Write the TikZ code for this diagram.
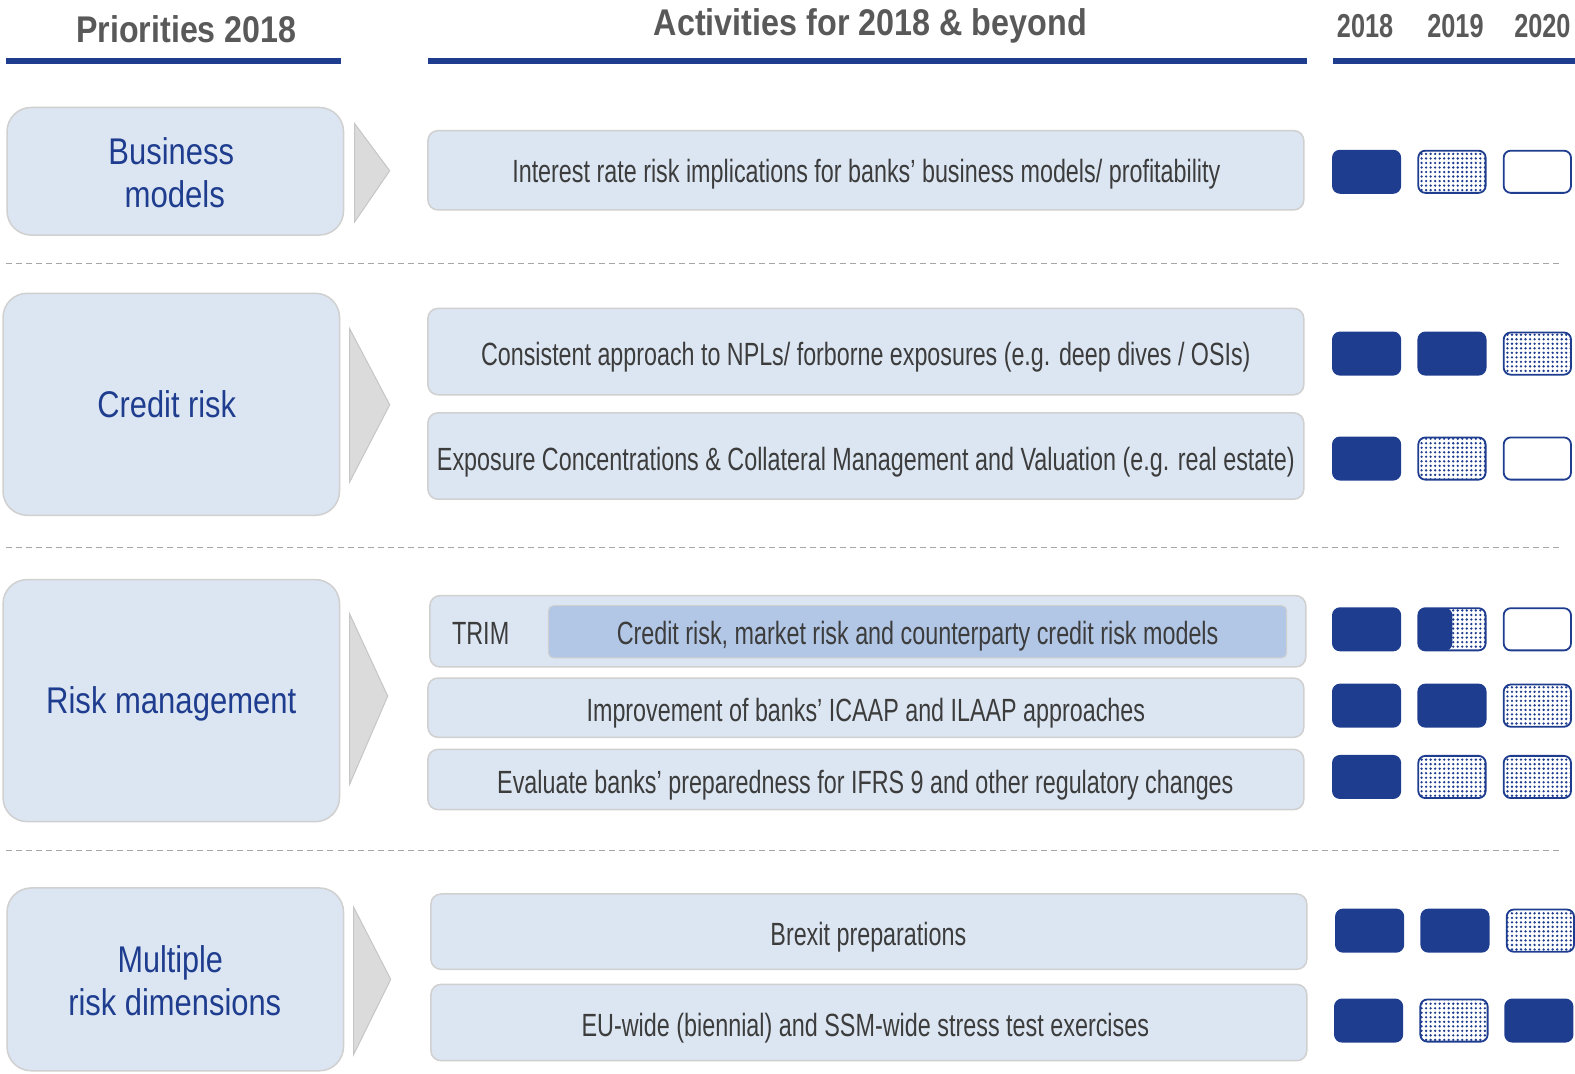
\documentclass[tikz,border=0pt]{standalone}
\usepackage{graphicx}
\usepackage{fontspec}
\setmainfont{Liberation Sans}
\usetikzlibrary{patterns}
\definecolor{dblue}{RGB}{31,61,143}
\definecolor{lfill}{RGB}{220,230,242}
\definecolor{ifill}{RGB}{178,199,230}
\definecolor{tgray}{RGB}{60,60,60}
\definecolor{hgray}{RGB}{89,89,89}
\definecolor{bgray}{RGB}{208,208,208}
\pgfdeclarepatternformonly{yeardots}{\pgfqpoint{-1pt}{-1pt}}{\pgfqpoint{5.5pt}{5.5pt}}{\pgfqpoint{4.5pt}{4.5pt}}{\pgfpathcircle{\pgfqpoint{2.25pt}{2.25pt}}{1.3pt}\pgfusepath{fill}}
\newcommand{\fw}[2]{\resizebox{#1pt}{\height}{#2}}
\tikzset{
 lbox/.style={draw=bgray, line width=1.5pt, fill=lfill, rounded corners=24pt, inner sep=0pt},
 abox/.style={draw=bgray, line width=1.5pt, fill=lfill, rounded corners=10pt, inner sep=0pt},
 ibox/.style={fill=ifill, draw=bgray, line width=1pt, rounded corners=5pt, inner sep=0pt},
 ttl/.style={text=dblue, font=\fontsize{37}{43}\selectfont, anchor=base, inner sep=0pt},
 act/.style={text=tgray, font=\fontsize{32}{38}\selectfont, anchor=base, inner sep=0pt},
 hdr/.style={text=hgray, font=\bfseries\fontsize{37}{43}\selectfont, anchor=base, inner sep=0pt},
 yhdr/.style={text=hgray, font=\bfseries\fontsize{33}{40}\selectfont, anchor=base, inner sep=0pt},
 chev/.style={fill=gray!28, draw=gray!45, line width=1pt},
 yb/.style={minimum width=67pt, minimum height=42pt, rounded corners=7pt, inner sep=0pt, line width=1.8pt, draw=dblue},
 yfull/.style={yb, fill=dblue},
 ydot/.style={yb, pattern=yeardots, pattern color=dblue},
 yempty/.style={yb, fill=white},
 yhalf/.style={yb, pattern=yeardots, pattern color=dblue, path picture={\fill[dblue] (path picture bounding box.south west) rectangle ([xshift=-33pt]path picture bounding box.north east);}},
 bar/.style={draw=dblue, line width=6pt},
 sep/.style={draw=gray!70, line width=1pt, dash pattern=on 6pt off 4pt},
}
\begin{document}
\begin{tikzpicture}[x=1pt,y=-1pt]
\useasboundingbox (0,0) rectangle (1568,1069);
% headers
\node[hdr] (hp) at (185.5,42) {\fw{219}{Priorities 2018}};
\node[hdr] (ha) at (866.5,35) {\fw{431}{Activities for 2018 \& beyond}};
\node[yhdr] (h18) at (1359,37) {\fw{56}{2018}};
\node[yhdr] (h19) at (1449,37) {\fw{56}{2019}};
\node[yhdr] (h20) at (1535.5,37) {\fw{56}{2020}};
\path[bar] (6,61) -- (339,61);
\path[bar] (426,61) -- (1301,61);
\path[bar] (1327,61) -- (1568,61);
% separators
\path[sep] (6,262) -- (1555,262);
\path[sep] (6,545) -- (1555,545);
\path[sep] (6,847) -- (1555,847);
% left boxes
\node[lbox, minimum width=335pt, minimum height=127pt] (b1) at (174.5,170.5) {};
\node[lbox, minimum width=335pt, minimum height=221pt] (b2) at (170.5,402.5) {};
\node[lbox, minimum width=335pt, minimum height=241pt] (b3) at (170.5,697.5) {};
\node[lbox, minimum width=335pt, minimum height=182pt] (b4) at (174.5,975) {};
\node[ttl] (t1a) at (170.5,164) {\fw{125}{Business}};
\node[ttl] (t1b) at (174,207) {\fw{100}{models}};
\node[ttl] (t2) at (166,416) {\fw{138}{Credit risk}};
\node[ttl] (t3) at (170.5,710) {\fw{249}{Risk management}};
\node[ttl] (t4a) at (169.5,968) {\fw{105}{Multiple}};
\node[ttl] (t4b) at (174,1011) {\fw{212}{risk dimensions}};
% chevrons
\path[chev] (353,123) -- (388,170) -- (353,221) -- cycle;
\path[chev] (348,327) -- (388,403) -- (348,480) -- cycle;
\path[chev] (348,611) -- (386,693) -- (348,781) -- cycle;
\path[chev] (352,903) -- (389,975) -- (352,1050) -- cycle;
% activity boxes
\node[abox, minimum width=872pt, minimum height=79pt] (a1) at (862,169.5) {};
\node[abox, minimum width=872pt, minimum height=86pt] (a2) at (862,350) {};
\node[abox, minimum width=872pt, minimum height=86pt] (a3) at (862,454) {};
\node[abox, minimum width=872pt, minimum height=71pt] (a4) at (864,628.5) {};
\node[ibox, minimum width=735pt, minimum height=52pt] (a4i) at (913.5,629) {};
\node[abox, minimum width=872pt, minimum height=59pt] (a5) at (862,704.5) {};
\node[abox, minimum width=872pt, minimum height=60pt] (a6) at (862,776) {};
\node[abox, minimum width=872pt, minimum height=75pt] (a7) at (865,927.5) {};
\node[abox, minimum width=872pt, minimum height=76pt] (a8) at (865,1018) {};
\node[act] (s1) at (862.5,182) {\fw{705}{Interest rate risk implications for banks’ business models/ profitability}};
\node[act] (s2) at (862,364) {\fw{766}{Consistent approach to NPLs/ forborne exposures (e.g. deep dives / OSIs)}};
\node[act] (s3) at (862,468) {\fw{854}{Exposure Concentrations \& Collateral Management and Valuation (e.g. real estate)}};
\node[act] (s4a) at (478.5,642) {\fw{57}{TRIM}};
\node[act] (s4b) at (913.5,642) {\fw{599}{Credit risk, market risk and counterparty credit risk models}};
\node[act] (s5) at (862,718) {\fw{556}{Improvement of banks’ ICAAP and ILAAP approaches}};
\node[act] (s6) at (861.5,790) {\fw{733}{Evaluate banks’ preparedness for IFRS 9 and other regulatory changes}};
\node[act] (s7) at (864.5,941) {\fw{195}{Brexit preparations}};
\node[act] (s8) at (861.5,1032) {\fw{565}{EU-wide (biennial) and SSM-wide stress test exercises}};
% year boxes
\node[yfull]  (y11) at (1360.5,171) {};
\node[ydot]   (y12) at (1445.5,171) {};
\node[yempty] (y13) at (1530.5,171) {};
\node[yfull]  (y21) at (1360.5,352) {};
\node[yfull]  (y22) at (1445.5,352) {};
\node[ydot]   (y23) at (1530.5,352) {};
\node[yfull]  (y31) at (1360.5,456.5) {};
\node[ydot]   (y32) at (1445.5,456.5) {};
\node[yempty] (y33) at (1530.5,456.5) {};
\node[yfull]  (y41) at (1360.5,626.5) {};
\node[yhalf]  (y42) at (1445.5,626.5) {};
\node[yempty] (y43) at (1530.5,626.5) {};
\node[yfull]  (y51) at (1360.5,702.5) {};
\node[yfull]  (y52) at (1445.5,702.5) {};
\node[ydot]   (y53) at (1530.5,702.5) {};
\node[yfull]  (y61) at (1360.5,773.5) {};
\node[ydot]   (y62) at (1445.5,773.5) {};
\node[ydot]   (y63) at (1530.5,773.5) {};
\node[yfull]  (y71) at (1363.5,926.5) {};
\node[yfull]  (y72) at (1448.5,926.5) {};
\node[ydot]   (y73) at (1533.5,926.5) {};
\node[yfull]  (y81) at (1362.5,1016) {};
\node[ydot]   (y82) at (1447.5,1016) {};
\node[yfull]  (y83) at (1532,1016) {};
\end{tikzpicture}
\end{document}
